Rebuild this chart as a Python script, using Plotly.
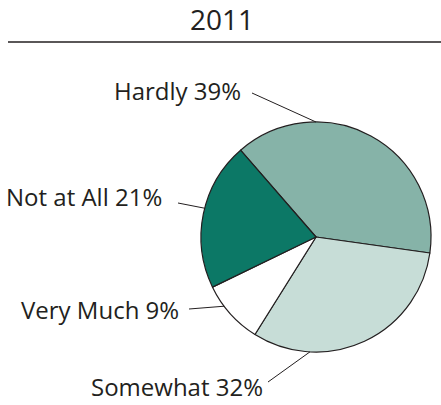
import math
import plotly.graph_objects as go

# ---- data ----
categories = ["Hardly", "Somewhat", "Very Much", "Not at All"]
values = [39, 32, 9, 21]
colors = ["#86b3a8", "#c7ddd7", "#ffffff", "#0c7866"]
title_text = "2011"

W, H = 441, 405
FONT = "Open Sans"
INK = "#231f20"

# pie geometry (pixels)
CX, CY, R = 316, 237, 115

def px(x, y):
    return x / W, 1 - y / H

def polar(angle_deg, r=R):
    a = math.radians(angle_deg)
    return CX + r * math.sin(a), CY - r * math.cos(a)

fig = go.Figure(go.Pie(
    labels=categories,
    values=values,
    marker=dict(colors=colors, line=dict(color=INK, width=1.2)),
    sort=False,
    direction="clockwise",
    rotation=-41,
    textinfo="none",
    hoverinfo="label+percent",
    showlegend=False,
    domain=dict(x=[(CX - R) / W, (CX + R) / W], y=[1 - (CY + R) / H, 1 - (CY - R) / H]),
))

# label layout: (text anchor right x, center y, leader start, leader angle on pie)
label_pos = [
    (243, 90, (252, 93), 0),
    (265, 386, (268, 382), 183),
    (181, 309, (189, 309), 233),
    (164, 196, (178, 203), 284.5),
]

annotations = []
shapes = []
for cat, val, (tx, ty, (lx, ly), ang) in zip(categories, values, label_pos):
    ax_, ay_ = px(tx, ty)
    annotations.append(dict(
        x=ax_, y=ay_, xref="paper", yref="paper", xanchor="right", yanchor="middle",
        text=f"{cat} {val}%", showarrow=False,
        font=dict(family=FONT, size=24, color=INK),
    ))
    ex, ey = polar(ang)
    x0, y0 = px(lx, ly)
    x1, y1 = px(ex, ey)
    shapes.append(dict(type="line", xref="paper", yref="paper", x0=x0, y0=y0, x1=x1, y1=y1,
                       line=dict(color=INK, width=1)))

# title and rule
tx, ty = px(222, 19)
annotations.append(dict(x=tx, y=ty, xref="paper", yref="paper", xanchor="center", yanchor="middle",
                        text=title_text, showarrow=False, font=dict(family=FONT, size=28, color=INK)))
x0, y0 = px(8, 42)
x1, y1 = px(441, 42)
shapes.append(dict(type="line", xref="paper", yref="paper", x0=x0, y0=y0, x1=x1, y1=y1,
                   line=dict(color=INK, width=1.6)))

fig.update_layout(
    width=W, height=H,
    margin=dict(l=0, r=0, t=0, b=0),
    paper_bgcolor="white", plot_bgcolor="white",
    annotations=annotations, shapes=shapes,
)

fig.write_html("out.html", config={"displayModeBar": False},
               post_script="document.body.style.margin='0';")
